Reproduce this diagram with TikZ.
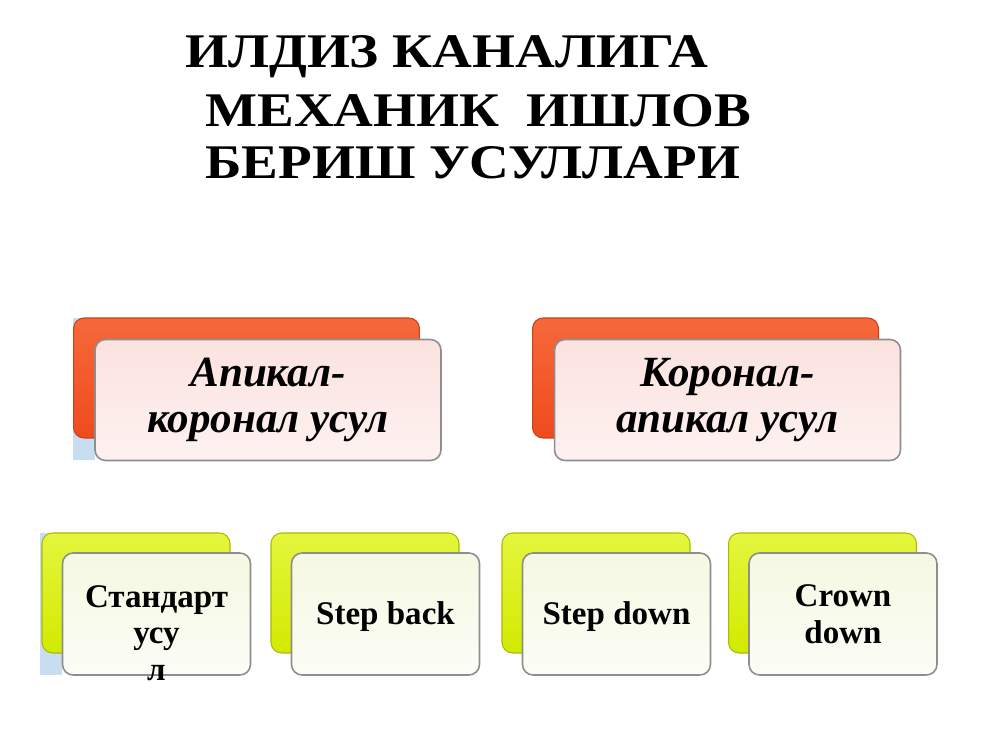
\documentclass[tikz,border=0pt]{standalone}
\usepackage{fontspec}
\setmainfont{Liberation Serif}
\newfontfamily\titlefont[FakeStretch=1.14]{Liberation Serif}
\usetikzlibrary{positioning}
\definecolor{redback}{HTML}{EF4B1D}
\definecolor{redlight}{HTML}{F6683A}
\definecolor{pinkfront}{HTML}{FBE2DF}
\definecolor{limeback}{HTML}{D2EA00}
\definecolor{limelight}{HTML}{E4F63E}
\definecolor{creamfront}{HTML}{F5F8E2}
\definecolor{edgegray}{HTML}{8E8E8E}
\definecolor{patchblue}{HTML}{C9DDF0}
\tikzset{
  titleline/.style={anchor=base west,inner sep=0pt,font=\titlefont\fontsize{27.5}{32}\selectfont\bfseries},
  redcard/.style={rounded corners=6pt,minimum width=6.92cm,minimum height=2.4cm,top color=redlight,bottom color=redback,draw=redback!85!black,line width=0.6pt},
  pinkcard/.style={rounded corners=6pt,minimum width=6.92cm,minimum height=2.42cm,top color=pinkfront,bottom color=white!55!pinkfront,draw=edgegray,line width=0.9pt,font=\fontsize{24.5}{26}\selectfont\bfseries\itshape,align=center},
  limecard/.style={rounded corners=6pt,minimum width=3.76cm,minimum height=2.4cm,top color=limelight,bottom color=limeback,draw=limeback!80!black,line width=0.6pt},
  creamcard/.style={rounded corners=6pt,minimum width=3.76cm,minimum height=2.44cm,top color=creamfront,bottom color=white!70!creamfront,draw=edgegray,line width=0.9pt},
  cardtext/.style={font=\fontsize{18.8}{20.8}\selectfont\bfseries,align=center,inner sep=0pt}
}
\begin{document}
\begin{tikzpicture}[x=0.02cm,y=-0.02cm]
  \useasboundingbox[fill=white] (0,0) rectangle (1000,750);
  % title
  \node[titleline] (title1) at (185,68) {ИЛДИЗ КАНАЛИГА};
  \node[titleline] (title2) at (205,127) {МЕХАНИК\ \ ИШЛОВ};
  \node[titleline] (title3) at (205,178) {БЕРИШ УСУЛЛАРИ};
  % blue patches behind the first cards
  \fill[patchblue] (73,318) rectangle (95,460);
  \fill[patchblue] (40,533) rectangle (62,675);
  % upper pair
  \node[redcard] (apback) at (246.5,378) {};
  \node[pinkcard] (apical) at (268,400) {Апикал-\\коронал усул};
  \node[redcard] (coback) at (705.5,378) {};
  \node[pinkcard] (coronal) at (727.5,400) {Коронал-\\апикал усул};
  % lower cards
  \foreach \cx/\name in {136/standard,365/stepback,596/stepdown,822.5/crown}{
    \node[limecard] (\name back) at (\cx,593) {};
    \node[creamcard] (\name) at (\cx+20.5,614) {};
  }
  \node[cardtext,anchor=north] (standardtext) at ([yshift=-0.66cm]standard.north) {Стандарт\\усу\\л};
  \node[cardtext] (stepbacktext) at ([yshift=-0.05cm]stepback.center) {Step back};
  \node[cardtext] (stepdowntext) at ([yshift=-0.05cm]stepdown.center) {Step down};
  \node[cardtext] (crowntext) at (crown.center) {Crown\\down};
\end{tikzpicture}
\end{document}
